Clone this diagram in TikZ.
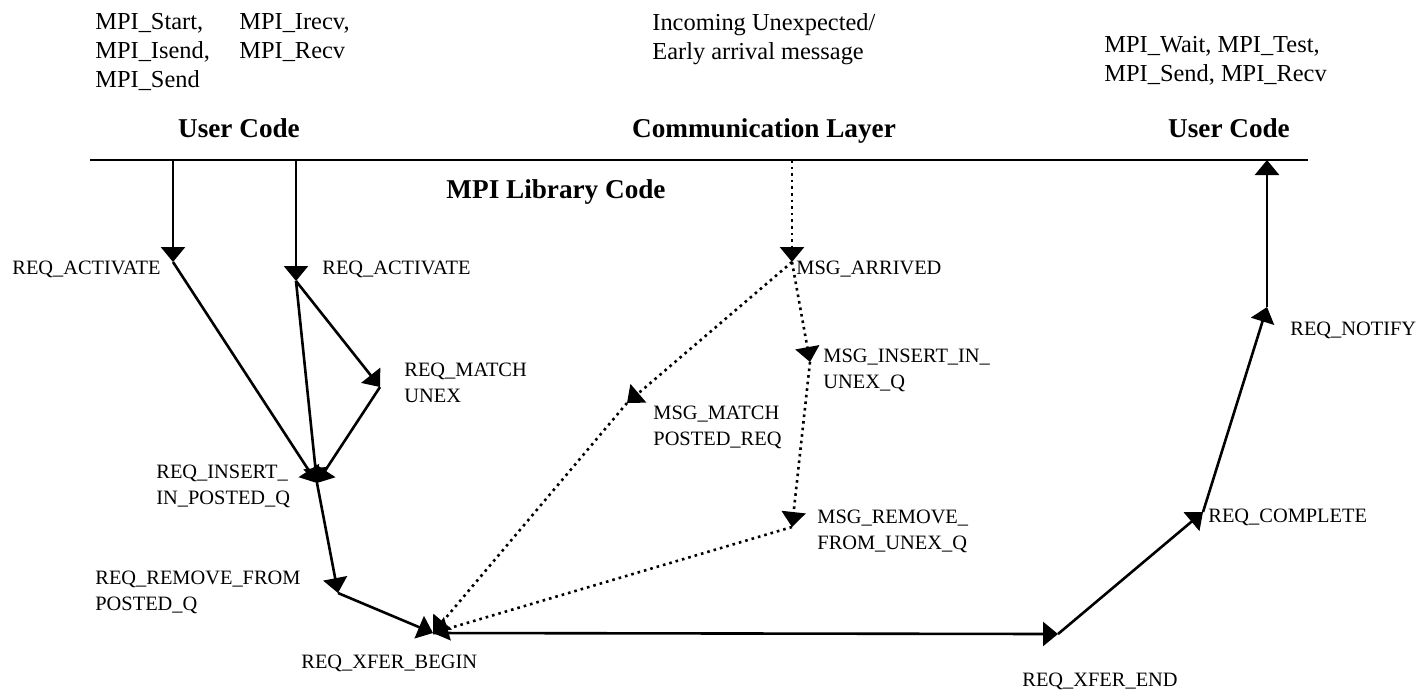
\documentclass[tikz,border=0pt]{standalone}
\usepackage{fontspec}
\setmainfont{Liberation Serif}
\usetikzlibrary{arrows.meta,positioning}

\begin{document}
\begin{tikzpicture}[x=0.5pt,y=-0.5pt,>={Triangle[length=7.5pt,width=12pt]}]
        \tikzset{flow/.style={draw, line width=1.3pt, ->},
        msgflow/.style={flow, dotted},
        lbl/.style={anchor=north west, inner sep=0pt, align=left, font=\fontsize{10.2}{13}\selectfont},
        api/.style={lbl, font=\fontsize{12.2}{14.5}\selectfont},
        layer/.style={anchor=base, inner sep=0pt, font=\fontsize{13.6}{16}\selectfont\bfseries}
        }
        \useasboundingbox (0,0) rectangle (1422,693);

%% layers
        \node [layer] (userL) at (239,137) {User Code};
        \node [layer] (comm) at (764,137) {Communication Layer};
        \node [layer] (userR) at (1229,137) {User Code};
        \node [layer] (lib) at (556,198) {MPI Library Code};
        \node [api] (sendapi) at (95,13) {MPI\_Start,\\MPI\_Isend,\\MPI\_Send};
        \node [api] (recvapi) at (239,13) {MPI\_Irecv,\\MPI\_Recv};
        \node [api] (netmsg) at (652,13) {Incoming Unexpected/\\Early arrival message};
        \node [api] (waitapi) at (1104,36) {MPI\_Wait, MPI\_Test,\\MPI\_Send, MPI\_Recv};

        \coordinate (lineL) at (90,160);
        \coordinate (lineR) at (1308,160);
        \coordinate (sendsrc) at (173,160);
        \coordinate (recvsrc) at (296,160);
        \coordinate (netsrc) at (792,160);
        \coordinate (notifydst) at (1267,160);

%% states
        \coordinate (act1) at (173,262);
        \coordinate (act2) at (296,281);
        \coordinate (matchunex) at (380,387);
        \coordinate (insert) at (317,483);
        \coordinate (remove) at (338,593);
        \coordinate (xbegin) at (433,633);
        \coordinate (xend) at (1058,634);
        \coordinate (complete) at (1203,512);
        \coordinate (notify) at (1267,307);
        \coordinate (arrived) at (792,262);
        \coordinate (insunex) at (810,362);
        \coordinate (msgmatch) at (627,403);
        \coordinate (msgremove) at (792,527);

        \node [lbl] (act1txt) at (12,261) {REQ\_ACTIVATE};
        \node [lbl] (act2txt) at (322,261) {REQ\_ACTIVATE};
        \node [lbl] (matchunextxt) at (404,363) {REQ\_MATCH\\UNEX};
        \node [lbl] (inserttxt) at (156,465) {REQ\_INSERT\_\\IN\_POSTED\_Q};
        \node [lbl] (removetxt) at (95,571) {REQ\_REMOVE\_FROM\\POSTED\_Q};
        \node [lbl] (xbegintxt) at (301,655) {REQ\_XFER\_BEGIN};
        \node [lbl] (xendtxt) at (1022,673) {REQ\_XFER\_END};
        \node [lbl] (completetxt) at (1208,509) {REQ\_COMPLETE};
        \node [lbl] (notifytxt) at (1290,322) {REQ\_NOTIFY};
        \node [lbl] (arrivedtxt) at (796,261) {MSG\_ARRIVED};
        \node [lbl] (insunextxt) at (823,349) {MSG\_INSERT\_IN\_\\UNEX\_Q};
        \node [lbl] (msgmatchtxt) at (653,406) {MSG\_MATCH\\POSTED\_REQ};
        \node [lbl] (msgremovetxt) at (817,510) {MSG\_REMOVE\_\\FROM\_UNEX\_Q};

%% paths
        \draw [line width=1.3pt] (lineL) -- (lineR);
        \path (sendsrc) edge [flow] (act1)
                    (recvsrc) edge [flow] (act2)
                    (act1) edge [flow] (insert)
                    (act2) edge [flow] (insert)
                    (act2) edge [flow] (matchunex)
                    (matchunex) edge [flow] (insert)
                    (insert) edge [flow] (remove)
                    (remove) edge [flow] (xbegin)
                    (xbegin) edge [flow] (xend)
                    (xend) edge [flow] (complete)
                    (complete) edge [flow] (notify)
                    (notify) edge [flow] (notifydst)
                    ;
        \path (netsrc) edge [msgflow] (arrived)
                    (arrived) edge [msgflow] (insunex)
                    (arrived) edge [msgflow] (msgmatch)
                    (insunex) edge [msgflow] (msgremove)
                    (msgmatch) edge [msgflow] (xbegin)
                    (msgremove) edge [msgflow] (xbegin)
                    ;
\end{tikzpicture}
\end{document}
